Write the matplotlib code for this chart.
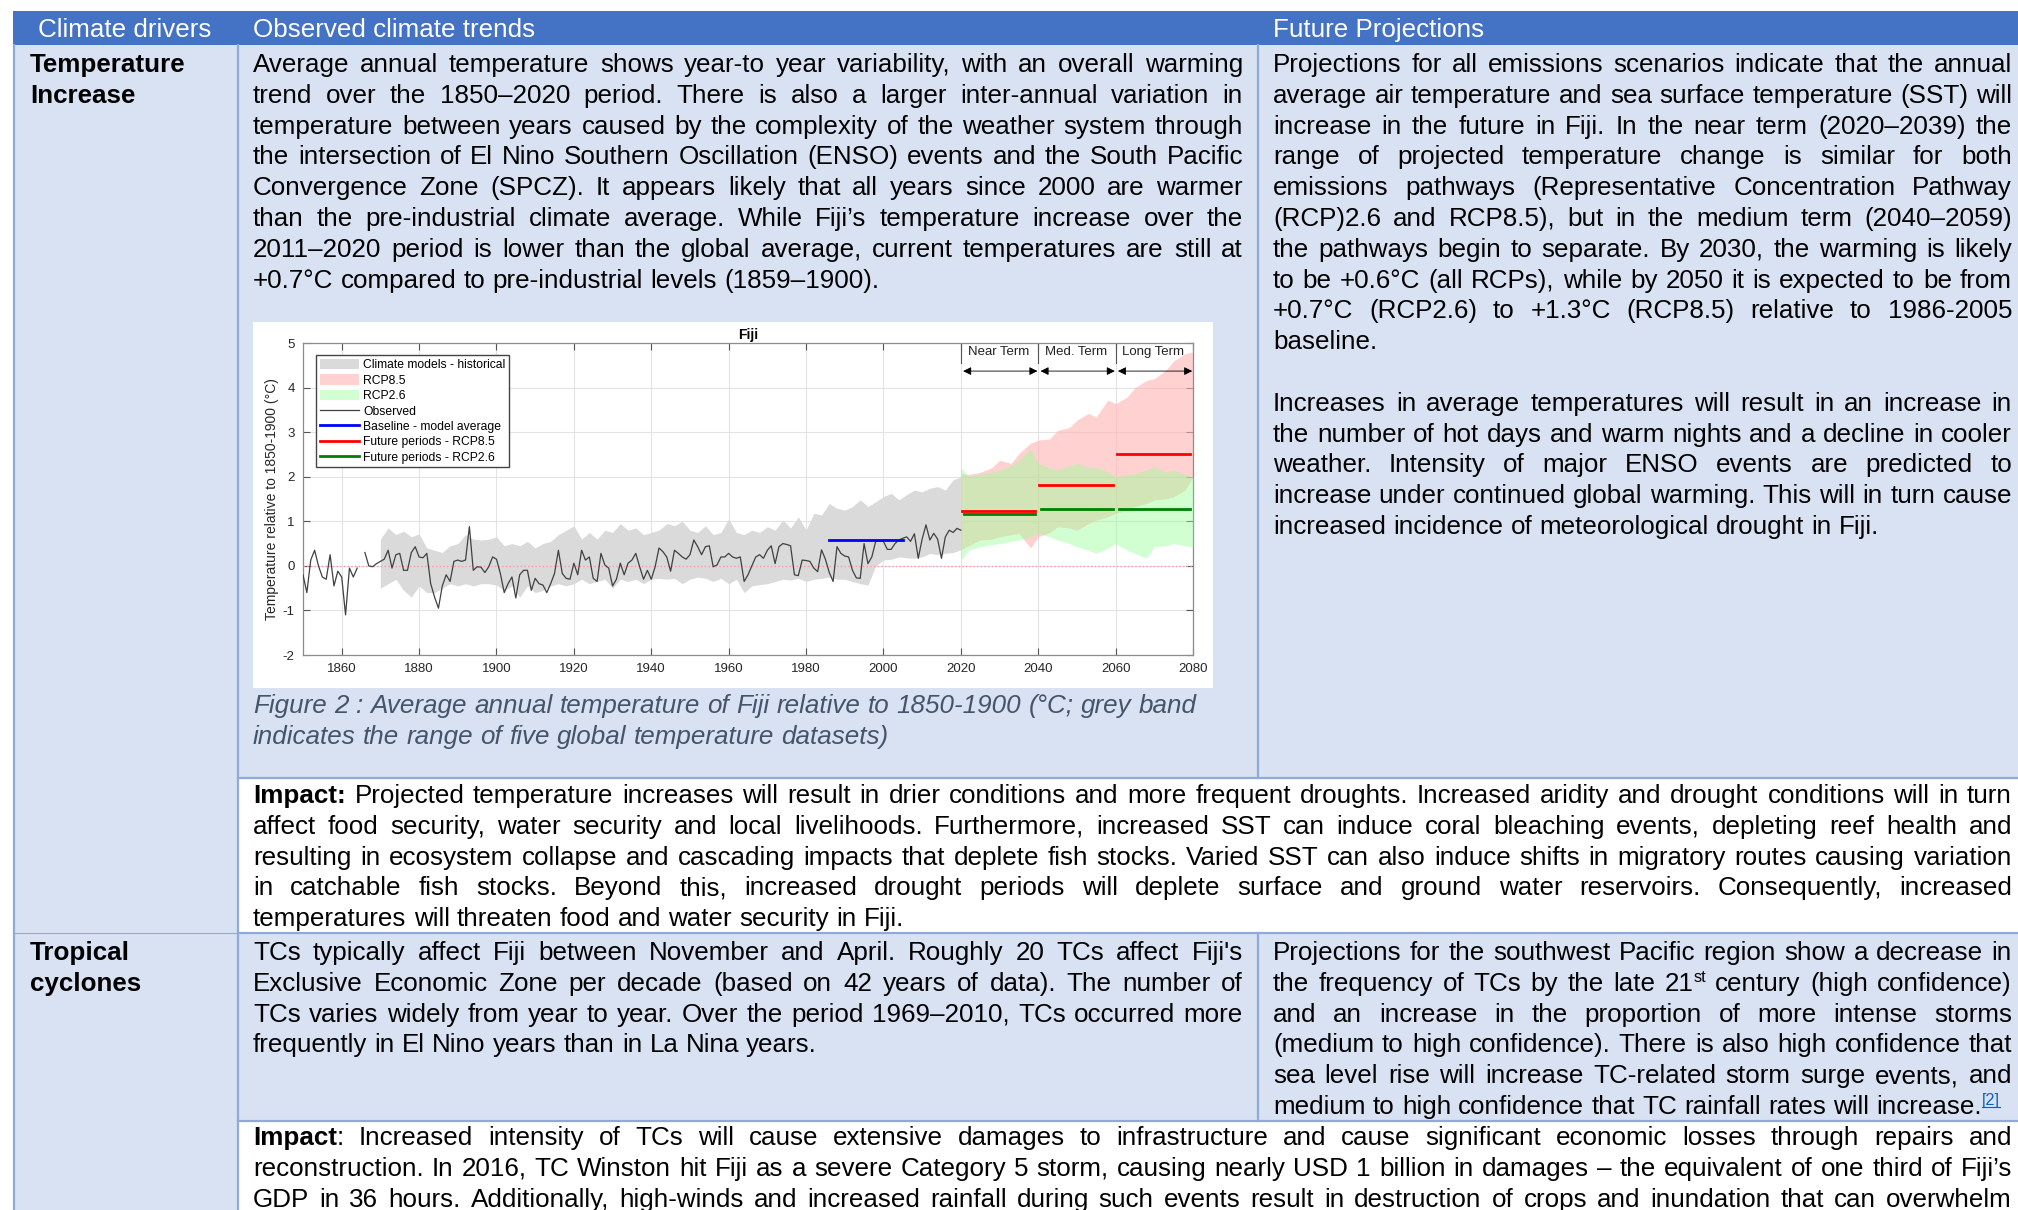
import re
import numpy as np
import matplotlib
matplotlib.use('Agg')
import matplotlib.pyplot as plt
from matplotlib.patches import Rectangle
from matplotlib.font_manager import FontProperties

FONT = ['Liberation Sans', 'DejaVu Sans']
plt.rcParams['font.family'] = FONT
plt.rcParams['axes.unicode_minus'] = False

# ---------------- chart data ----------------
obs_years = list(range(1850, 2021))
obs_vals = [
    -0.20, -0.60, 0.13, 0.35, 0.00, -0.25, -0.30, 0.25, -0.45, -0.12,   # 1850s
    -0.25, -1.10, -0.05, -0.25, -0.05, np.nan, 0.30, 0.00, -0.02, 0.05, # 1860s
    0.10, 0.15, 0.35, -0.05, 0.25, 0.28, -0.10, -0.10, 0.30, 0.43,      # 1870s
    0.20, 0.18, 0.28, -0.40, -0.70, -0.95, -0.45, -0.20, -0.35, 0.10,   # 1880s
    0.13, 0.10, 0.13, 0.88, -0.10, -0.02, -0.03, -0.15, -0.02, 0.20,    # 1890s
    0.15, -0.17, -0.60, -0.40, -0.25, -0.72, -0.20, -0.10, -0.10, -0.55, # 1900s
    -0.28, -0.40, -0.43, -0.60, -0.40, -0.17, 0.35, -0.17, -0.28, -0.30, # 1910s
    0.06, -0.20, 0.35, 0.13, 0.20, -0.28, -0.35, 0.28, 0.02, -0.05,     # 1920s
    -0.45, -0.30, 0.06, -0.20, 0.06, 0.13, 0.28, -0.02, -0.30, -0.10,   # 1930s
    -0.30, -0.02, 0.40, 0.32, 0.20, -0.12, 0.35, 0.28, 0.20, 0.15,      # 1940s
    0.25, 0.58, 0.43, 0.25, 0.43, 0.45, -0.02, 0.02, 0.20, 0.20,        # 1950s
    0.28, 0.20, 0.17, 0.20, -0.35, -0.20, 0.00, 0.20, 0.25, 0.17,       # 1960s
    0.35, 0.45, 0.05, 0.43, 0.50, 0.48, 0.45, -0.20, -0.22, 0.13,       # 1970s
    0.12, 0.10, -0.05, -0.13, 0.36, 0.15, -0.15, -0.35, 0.43, 0.28,     # 1980s
    0.22, 0.20, -0.10, -0.27, -0.28, 0.50, 0.05, 0.20, 0.55, 0.55,      # 1990s
    0.55, 0.37, 0.37, 0.50, 0.58, 0.62, 0.65, 0.55, 0.72, 0.17,         # 2000s
    0.60, 0.92, 0.58, 0.73, 0.60, 0.17, 0.65, 0.80, 0.75, 0.84,         # 2010s
    0.80,                                                               # 2020
]

hist_years = [1870, 1872, 1874, 1876, 1878, 1880, 1882, 1884, 1886, 1888,
              1890, 1892, 1894, 1896, 1898, 1900, 1902, 1904, 1906, 1908,
              1910, 1912, 1914, 1916, 1918, 1920, 1922, 1924, 1926, 1928,
              1930, 1932, 1934, 1936, 1938, 1940, 1942, 1944, 1946, 1948,
              1950, 1952, 1954, 1956, 1958, 1960, 1962, 1964, 1966, 1968,
              1970, 1972, 1974, 1976, 1978, 1980, 1982, 1984, 1986, 1988,
              1990, 1992, 1994, 1996, 1998, 2000, 2002, 2004, 2006, 2008,
              2010, 2012, 2014, 2016, 2018, 2020]
hist_hi = [0.60, 0.85, 0.70, 0.78, 0.65, 0.72, 0.40, 0.35, 0.30, 0.45,
           0.50, 0.70, 0.60, 0.58, 0.60, 0.65, 0.45, 0.50, 0.45, 0.55,
           0.40, 0.50, 0.55, 0.70, 0.80, 0.90, 0.60, 0.75, 0.60, 0.80,
           0.75, 0.95, 0.80, 0.85, 0.70, 0.75, 0.80, 0.95, 0.90, 1.00,
           0.80, 0.75, 0.90, 0.70, 0.75, 1.05, 0.75, 0.70, 0.80, 0.75,
           0.88, 0.80, 1.03, 0.85, 1.10, 0.80, 1.18, 1.14, 1.40, 1.29,
           1.25, 1.33, 1.48, 1.33, 1.44, 1.55, 1.63, 1.48, 1.60, 1.70,
           1.66, 1.74, 1.78, 1.70, 1.93, 2.00]
hist_lo = [-0.50, -0.40, -0.30, -0.55, -0.70, -0.45, -0.60, -0.60, -0.50, -0.40,
           -0.45, -0.40, -0.45, -0.40, -0.40, -0.43, -0.55, -0.45, -0.70, -0.45,
           -0.60, -0.55, -0.45, -0.40, -0.45, -0.40, -0.30, -0.40, -0.35, -0.30,
           -0.50, -0.30, -0.35, -0.30, -0.40, -0.30, -0.28, -0.30, -0.28, -0.40,
           -0.30, -0.25, -0.28, -0.35, -0.28, -0.40, -0.30, -0.60, -0.45, -0.42,
           -0.40, -0.35, -0.30, -0.32, -0.28, -0.35, -0.30, -0.28, -0.25, -0.30,
           -0.30, -0.35, -0.40, -0.43, 0.00, 0.13, 0.15, 0.20, 0.18, 0.17,
           0.20, 0.28, 0.25, 0.28, 0.30, 0.36]

rcp_years = [2020, 2022, 2025, 2028, 2030, 2033, 2035, 2038, 2040, 2043,
             2045, 2048, 2050, 2053, 2055, 2058, 2060, 2063, 2065, 2068,
             2070, 2073, 2075, 2078, 2080]
rcp85_hi = [2.07, 2.05, 2.10, 2.20, 2.37, 2.30, 2.52, 2.75, 2.82, 2.85,
            3.04, 3.10, 3.27, 3.42, 3.34, 3.72, 3.64, 3.79, 4.00, 4.16,
            4.20, 4.39, 4.60, 4.76, 4.80]
rcp85_lo = [0.36, 0.45, 0.58, 0.60, 0.65, 0.70, 0.73, 0.40, 0.65, 0.75,
            0.88, 0.85, 0.80, 0.95, 1.03, 1.10, 1.18, 1.25, 1.33, 1.40,
            1.48, 1.50, 1.55, 1.70, 2.00]
rcp26_hi = [2.22, 2.00, 2.07, 2.10, 2.15, 2.25, 2.37, 2.63, 2.30, 2.20,
            2.15, 2.25, 2.30, 2.20, 2.22, 2.10, 2.00, 2.05, 2.07, 2.15,
            2.22, 2.10, 2.15, 2.05, 2.00]
rcp26_lo = [0.13, 0.35, 0.43, 0.48, 0.50, 0.55, 0.58, 0.65, 0.73, 0.65,
            0.58, 0.50, 0.43, 0.35, 0.28, 0.40, 0.50, 0.35, 0.28, 0.17,
            0.43, 0.45, 0.50, 0.45, 0.43]

baseline_period = (1986, 2005)
baseline_mean = 0.57
future_periods = [(2020.3, 2039.2), (2040.3, 2059.2), (2060.3, 2079.2)]
future_names = ['Near Term', 'Med. Term', 'Long Term']
rcp85_means = [1.23, 1.82, 2.50]
rcp26_means = [1.17, 1.28, 1.27]

# ---------------- table text ----------------
header = ['Climate drivers', 'Observed climate trends', 'Future Projections']
driver_temp = ['Temperature', 'Increase']
driver_tc = ['Tropical', 'cyclones']

temp_observed = [
    'Average annual temperature shows year-to year variability, with an overall warming',
    'trend over the 1850–2020 period. There is also a larger inter-annual variation in',
    'temperature between years caused by the complexity of the weather system through',
    'the intersection of El Nino Southern Oscillation (ENSO) events and the South Pacific',
    'Convergence Zone (SPCZ). It appears likely that all years since 2000 are warmer',
    'than the pre-industrial climate average. While Fiji’s temperature increase over the',
    '2011–2020 period is lower than the global average, current temperatures are still at',
    '+0.7°C compared to pre-industrial levels (1859–1900).',
]
caption = [
    'Figure 2 : Average annual temperature of Fiji relative to 1850-1900 (°C; grey band',
    'indicates the range of five global temperature datasets)',
]
temp_future = [
    'Projections for all emissions scenarios indicate that the annual',
    'average air temperature and sea surface temperature (SST) will',
    'increase in the future in Fiji. In the near term (2020–2039) the',
    'range of projected temperature change is similar for both',
    'emissions pathways (Representative Concentration Pathway',
    '(RCP)2.6 and RCP8.5), but in the medium term (2040–2059)',
    'the pathways begin to separate. By 2030, the warming is likely',
    'to be +0.6°C (all RCPs), while by 2050 it is expected to be from',
    '+0.7°C (RCP2.6) to +1.3°C (RCP8.5) relative to 1986-2005',
    'baseline.',
    '',
    'Increases in average temperatures will result in an increase in',
    'the number of hot days and warm nights and a decline in cooler',
    'weather. Intensity of major ENSO events are predicted to',
    'increase under continued global warming. This will in turn cause',
    'increased incidence of meteorological drought in Fiji.',
]
temp_impact = [
    '**Impact:** Projected temperature increases will result in drier conditions and more frequent droughts. Increased aridity and drought conditions will in turn',
    'affect food security, water security and local livelihoods. Furthermore, increased SST can induce coral bleaching events, depleting reef health and',
    'resulting in ecosystem collapse and cascading impacts that deplete fish stocks. Varied SST can also induce shifts in migratory routes causing variation',
    'in catchable fish stocks. Beyond this, increased drought periods will deplete surface and ground water reservoirs. Consequently, increased',
    'temperatures will threaten food and water security in Fiji.',
]
tc_observed = [
    "TCs typically affect Fiji between November and April. Roughly 20 TCs affect Fiji's",
    'Exclusive Economic Zone per decade (based on 42 years of data). The number of',
    'TCs varies widely from year to year. Over the period 1969–2010, TCs occurred more',
    'frequently in El Nino years than in La Nina years.',
]
tc_future = [
    'Projections for the southwest Pacific region show a decrease in',
    'the frequency of TCs by the late 21^{st} century (high confidence)',
    'and an increase in the proportion of more intense storms',
    '(medium to high confidence). There is also high confidence that',
    'sea level rise will increase TC-related storm surge events, and',
    'medium to high confidence that TC rainfall rates will increase.^{[2]}',
]
tc_impact = [
    '**Impact**: Increased intensity of TCs will cause extensive damages to infrastructure and cause significant economic losses through repairs and',
    'reconstruction. In 2016, TC Winston hit Fiji as a severe Category 5 storm, causing nearly USD 1 billion in damages – the equivalent of one third of Fiji’s',
    'GDP in 36 hours. Additionally, high-winds and increased rainfall during such events result in destruction of crops and inundation that can overwhelm',
]

# ---------------- page (table) ----------------
W, H = 2018, 1210
fig = plt.figure(figsize=(W / 100, H / 100), dpi=100, facecolor='white')
page = fig.add_axes([0, 0, 1, 1])
page.set_xlim(0, W)
page.set_ylim(H, 0)
page.axis('off')

BLUE = '#4472C4'
LIGHT = '#D9E2F3'
EDGE = '#8EAADB'
BODY = 18.7
LINE = 30.8

page.add_patch(Rectangle((13, 11), W - 13, 34, fc=BLUE, ec='none'))
page.add_patch(Rectangle((13, 45), 225, H - 45, fc=LIGHT, ec='none'))
page.add_patch(Rectangle((238, 45), W - 238, 733, fc=LIGHT, ec='none'))
page.add_patch(Rectangle((238, 933), W - 238, 188, fc=LIGHT, ec='none'))
page.add_patch(Rectangle((253, 322), 960, 366, fc='white', ec='none'))

page.plot([14, 14], [45, H], color=EDGE, lw=1.6)
page.plot([238, 238], [45, H], color=EDGE, lw=1.6)
page.plot([1258, 1258], [45, 778], color=EDGE, lw=1.6)
page.plot([1258, 1258], [933, 1121], color=EDGE, lw=1.6)
page.plot([238, W], [778, 778], color=EDGE, lw=1.6)
page.plot([14, 238], [933, 933], color=EDGE, lw=0.8)
page.plot([238, W], [933, 933], color=EDGE, lw=1.6)
page.plot([238, W], [1121, 1121], color=EDGE, lw=1.6)

rend = fig.canvas.get_renderer()
_cache = {}


def tw(s, size=BODY, bold=False, italic=False):
    key = (s, size, bold, italic)
    if key not in _cache:
        fp = FontProperties(family=FONT, size=size,
                            weight='bold' if bold else 'normal',
                            style='italic' if italic else 'normal')
        _cache[key] = rend.get_text_width_height_descent(s, fp, ismath=False)[0]
    return _cache[key]


def parse(word, st):
    segs = []
    for part in re.split(r'(\*\*|\^\{[^}]*\})', word):
        if part == '**':
            st['bold'] = not st['bold']
        elif part.startswith('^{'):
            segs.append((part[2:-1], st['bold'], True))
        elif part:
            segs.append((part, st['bold'], False))
    return segs


def seg_w(seg, italic):
    t, b, sup = seg
    return tw(t, BODY * 0.62 if sup else BODY, b, italic)


def draw_seg(x, y, seg, color, italic):
    t, b, sup = seg
    size = BODY * 0.62 if sup else BODY
    c = color
    if sup and t.startswith('['):
        c = '#0563C1'
        page.plot([x, x + tw(t, size, b, italic)], [y - 7, y - 7], color=c, lw=0.8)
    page.text(x, y - 9 if sup else y, t, fontsize=size,
              fontweight='bold' if b else 'normal',
              fontstyle='italic' if italic else 'normal',
              color=c, ha='left', va='baseline')


def paragraph(lines, x0, x1, y0, color='black', italic=False, justify=True,
              justify_last=False):
    st = {'bold': False}
    sp = tw('a a', italic=italic) - tw('aa', italic=italic)
    for i, line in enumerate(lines):
        if not line:
            continue
        y = y0 + i * LINE
        words = [parse(w, st) for w in line.split(' ')]
        ws = [sum(seg_w(s, italic) for s in wd) for wd in words]
        last = (i == len(lines) - 1 and not justify_last) or \
               (i < len(lines) - 1 and not lines[i + 1])
        gap = sp
        if justify and not last and len(words) > 1:
            gap = (x1 - x0 - sum(ws)) / (len(words) - 1)
        x = x0
        for wd, w in zip(words, ws):
            xx = x
            for s in wd:
                draw_seg(xx, y, s, color, italic)
                xx += seg_w(s, italic)
            x += w + gap


# header
for x, t in zip([38, 253, 1273], header):
    page.text(x, 37, t, fontsize=BODY, color='white', ha='left', va='baseline')

# driver names
for i, t in enumerate(driver_temp):
    page.text(30, 72 + i * LINE, t, fontsize=BODY, fontweight='bold', va='baseline')
for i, t in enumerate(driver_tc):
    page.text(30, 960 + i * LINE, t, fontsize=BODY, fontweight='bold', va='baseline')

paragraph(temp_observed, 253, 1243, 72)
paragraph(temp_future, 1273, 2012, 72)
paragraph(caption, 253, 1243, 713, color='#44546A', italic=True, justify=False)
paragraph(temp_impact, 253, 2012, 803)
paragraph(tc_observed, 253, 1243, 960)
paragraph(tc_future, 1273, 2012, 960)
paragraph(tc_impact, 253, 2012, 1145, justify_last=True)

# ---------------- embedded chart ----------------
ax = fig.add_axes([303 / W, 1 - 655 / H, 890 / W, 312 / H])
ax.set_facecolor('white')

h_hist = ax.fill_between(hist_years, hist_lo, hist_hi, color='#DADADA', lw=0, zorder=2)
h85 = ax.fill_between(rcp_years, rcp85_lo, rcp85_hi, color=(1, 0.7, 0.7), alpha=0.6, lw=0, zorder=2)
h26 = ax.fill_between(rcp_years, rcp26_lo, rcp26_hi, color=(0.6, 1, 0.6), alpha=0.45, lw=0, zorder=3)
ax.axhline(0, color='#FF9999', ls=':', lw=1.0, zorder=3.5)
h_obs, = ax.plot(obs_years, obs_vals, color='#404040', lw=0.9, zorder=4)
h_base, = ax.plot(baseline_period, [baseline_mean] * 2, color='#0000FF', lw=2, zorder=5)
for (a, b), v in zip(future_periods, rcp85_means):
    h_f85, = ax.plot([a, b], [v, v], color='#FF0000', lw=2, zorder=5)
for (a, b), v in zip(future_periods, rcp26_means):
    h_f26, = ax.plot([a + 0.5, b], [v, v], color='#008000', lw=2, zorder=5)

for (a, b), name in zip(future_periods, future_names):
    mid = (a + b) / 2
    ax.text(mid, 4.8, name, ha='center', va='center', fontsize=9.5, color='#222222')
    ax.annotate('', xy=(a + 0.3, 4.37), xytext=(b + 0.6, 4.37),
                arrowprops=dict(arrowstyle='<|-|>', color='black', lw=0.6,
                                mutation_scale=12, shrinkA=0, shrinkB=0))
for x in [2020, 2040, 2060]:
    ax.plot([x, x], [4.55, 5], color='#555555', lw=0.8)

ax.set_xlim(1850, 2080)
ax.set_ylim(-2, 5)
ax.set_xticks(list(range(1860, 2081, 20)))
ax.set_yticks(list(range(-2, 6)))
ax.grid(True, color='#E3E3E3', lw=0.8)
ax.set_axisbelow(True)
ax.tick_params(direction='in', top=True, right=True, length=5, width=0.8,
               color='#555555', labelcolor='#262626', labelsize=9.5, pad=6)
for s in ax.spines.values():
    s.set_color('#8C8C8C')
    s.set_linewidth(0.9)
ax.set_title('Fiji', fontsize=10, fontweight='bold', pad=3)
ax.set_ylabel('Temperature relative to 1850-1900 (°C)', fontsize=10, color='#262626')
ax.yaxis.set_label_coords(-0.027, 0.5)

ax.legend([h_hist, h85, h26, h_obs, h_base, h_f85, h_f26],
          ['Climate models - historical', 'RCP8.5', 'RCP2.6', 'Observed',
           'Baseline - model average', 'Future periods - RCP8.5', 'Future periods - RCP2.6'],
          loc='upper left', bbox_to_anchor=(0.0146, 0.9615), borderaxespad=0,
          fontsize=8.7, frameon=True, fancybox=False, edgecolor='#444444',
          framealpha=1, handlelength=3.3, handleheight=1.0, labelspacing=0.24,
          borderpad=0.3, handletextpad=0.3)

fig.savefig('out.png', dpi=100)
